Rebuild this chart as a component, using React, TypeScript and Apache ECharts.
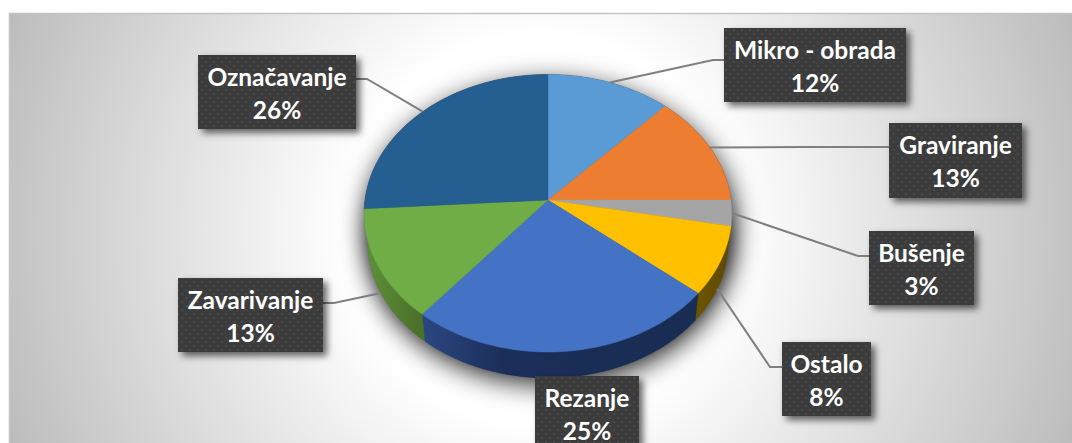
import React, { useEffect, useRef } from "react";
import * as echarts from "echarts";

const categories = ["Mikro - obrada", "Graviranje", "Bušenje", "Ostalo", "Rezanje", "Zavarivanje", "Označavanje"];
const values = [12, 13, 3, 8, 25, 13, 26];

const topColors = ["#5B9BD5", "#ED7D31", "#A5A5A5", "#FFC000", "#4472C4", "#70AD47", "#255E91"];
const boxes = [
  [724, 28, 182, 74], [889, 123, 133, 75], [869, 231, 105, 74], [782, 342, 89, 74],
  [535, 376, 104, 74], [178, 278, 145, 74], [198, 55, 158, 74],
];
// elbow of each leader line, then the point where it meets the box (null: no visible leader)
const elbows: (number[][] | null)[] = [
  [[713, 60], [724, 60]], [[800, 147], [889, 147]], [[858, 256], [869, 256]], [[770, 367], [782, 367]],
  null, [[334, 303], [323, 303]], [[367, 79], [356, 79]],
];
const anchorOnWall = [false, false, false, true, false, true, false];

const CX = 548, CY = 200, RX = 183, RY = 137.5, K = 0.0955;
const WALL_SCALE = 0.98, WALL_DY = 29;
const total = values.reduce((a, b) => a + b, 0);
const starts: number[] = [];
values.reduce((acc, v, i) => { starts[i] = acc; return acc + v; }, 0);

function topPt(share: number): number[] {
  const a = (share / total) * Math.PI * 2;
  const ux = Math.sin(a), uy = -Math.cos(a);
  const d = 1 - K * uy;
  return [(RX * ux) / d, (RY * uy) / d];
}
const top = (s: number) => { const p = topPt(s); return [CX + p[0], CY + p[1]]; };
const bottom = (s: number) => { const p = topPt(s); return [CX + p[0] * WALL_SCALE, CY + p[1] * WALL_SCALE + WALL_DY]; };

function arc(from: number, to: number, f: (s: number) => number[]) {
  const n = Math.max(2, Math.ceil((to - from) * 2));
  const out: number[][] = [];
  for (let i = 0; i <= n; i++) out.push(f(from + ((to - from) * i) / n));
  return out;
}

function wallFill(i: number): any {
  const G = echarts.graphic.LinearGradient;
  if (i === 5) return new G(368, 0, 424, 0, [{ offset: 0, color: "#5c8f37" }, { offset: 1, color: "#4a6f29" }], true);
  if (i === 4) return new G(424, 0, 694, 0, [
    { offset: 0, color: "#2b4680" }, { offset: 0.3, color: "#1b2e59" }, { offset: 1, color: "#192c52" },
  ], true);
  if (i === 3) return new G(694, 0, 725, 0, [{ offset: 0, color: "#6d5500" }, { offset: 1, color: "#5f4a00" }], true);
  return "#666666";
}

function dotPattern(): any {
  const c = document.createElement("canvas");
  c.width = 8; c.height = 8;
  const g = c.getContext("2d")!;
  g.fillStyle = "#3c3c3c";
  g.fillRect(0, 0, 8, 8);
  g.fillStyle = "#484848";
  g.fillRect(1, 1, 2, 2);
  g.fillRect(5, 5, 2, 2);
  return { image: c, repeat: "repeat" };
}

export default function App() {
  const ref = useRef<HTMLDivElement>(null);
  useEffect(() => {
    const chart = echarts.init(ref.current!, undefined, { renderer: "svg" });
    const pattern = dotPattern();
    const base = { type: "custom", coordinateSystem: "none", silent: true, data: values };
    chart.setOption({
      animation: false,
      backgroundColor: "#ffffff",
      graphic: [
        {
          type: "rect", z: -10, silent: true,
          shape: { x: 9.5, y: 13.5, width: 1070, height: 440 },
          style: {
            fill: new echarts.graphic.RadialGradient(540, 230, 590, [
              { offset: 0, color: "#ffffff" }, { offset: 0.33, color: "#ffffff" },
              { offset: 0.55, color: "#e8e8e8" }, { offset: 1, color: "#b9b9b9" },
            ], true),
            stroke: "#c4c4c4", lineWidth: 1.5,
          },
        },
      ],
      series: [
        {
          ...base, z: 1, data: [total],
          renderItem: () => ({
            type: "group",
            children: [arc(0, total, top), arc(0, total, bottom)].map((points) => ({
              type: "polygon", shape: { points },
              style: { fill: "#444", shadowBlur: 26, shadowColor: "rgba(0,0,0,0.8)", shadowOffsetY: 7, shadowOffsetX: 2 },
            })),
          }),
        },
        {
          ...base, z: 2,
          renderItem: (p: any) => {
            const i = p.dataIndex, a = starts[i], b = a + values[i];
            const fill = wallFill(i);
            return {
              type: "polygon",
              shape: { points: [...arc(a, b, top), ...arc(a, b, bottom).reverse()] },
              style: { fill, stroke: fill, lineWidth: 0.5 },
            };
          },
        },
        {
          ...base, z: 3,
          renderItem: (p: any) => {
            const i = p.dataIndex, a = starts[i], b = a + values[i];
            return {
              type: "polygon",
              shape: { points: [[CX, CY], ...arc(a, b, top)] },
              style: { fill: topColors[i], stroke: topColors[i], lineWidth: 0.4 },
            };
          },
        },
        {
          ...base, z: 4,
          renderItem: (p: any) => {
            const i = p.dataIndex;
            const tail = elbows[i];
            if (!tail) return { type: "group", children: [] };
            const mid = starts[i] + values[i] / 2;
            const start = anchorOnWall[i] ? bottom(mid) : top(mid);
            return {
              type: "polyline",
              shape: { points: [start, ...tail] },
              style: { fill: "none", stroke: "#7f7f7f", lineWidth: 2 },
            };
          },
        },
        {
          ...base, z: 5,
          renderItem: (p: any) => {
            const i = p.dataIndex;
            const [x, y, w, h] = boxes[i];
            return {
              type: "group",
              children: [
                {
                  type: "rect", shape: { x, y, width: w, height: h },
                  style: { fill: "#3c3c3c", shadowBlur: 7, shadowOffsetX: 4, shadowOffsetY: 4, shadowColor: "rgba(0,0,0,0.6)" },
                },
                { type: "rect", shape: { x, y, width: w, height: h }, style: { fill: pattern } },
                {
                  type: "text", x: x + w / 2, y: y + 21,
                  style: { text: categories[i], fill: "#ffffff", font: "bold 24.5px Lato", align: "center", verticalAlign: "middle" },
                },
                {
                  type: "text", x: x + w / 2, y: y + 54.5,
                  style: { text: `${Math.round((values[i] / total) * 100)}%`, fill: "#ffffff", font: "bold 24.5px Lato", align: "center", verticalAlign: "middle" },
                },
              ],
            };
          },
        },
      ],
    });
    return () => chart.dispose();
  }, []);
  return <div ref={ref} style={{ position: "fixed", left: 0, top: 0, width: 1072, height: 443 }} />;
}
